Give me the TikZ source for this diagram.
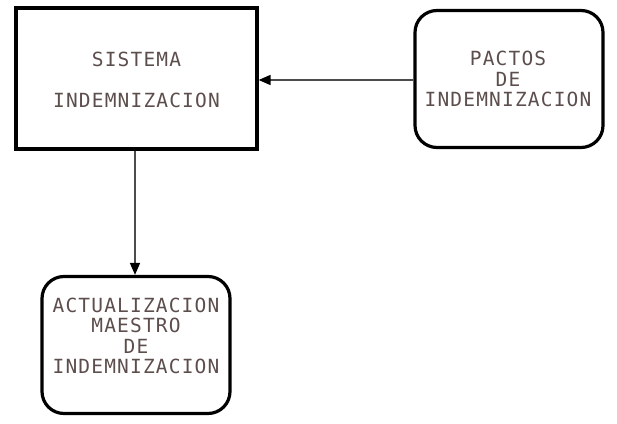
\documentclass[tikz,border=0pt]{standalone}
\usepackage{fontspec}
\newfontfamily\boxfont[LetterSpace=6]{DejaVu Sans Mono}
\usetikzlibrary{arrows.meta}
\definecolor{inkt}{RGB}{92,78,76}
\tikzset{
  boxline/.style={draw=black, line width=3.2pt, inner sep=0pt},
  rbox/.style={boxline, rounded corners=22pt, minimum width=188pt, minimum height=137pt},
  sbox/.style={boxline, minimum width=241pt, minimum height=141pt},
  lbl/.style={text=inkt, font=\boxfont\fontsize{19.5}{20.5}\selectfont, align=center, inner sep=0pt},
  conn/.style={draw=black!70, line width=1.6pt, -{Triangle[length=12pt,width=10pt,color=black]}}
}
\begin{document}
\begin{tikzpicture}[x=1pt,y=1pt]
\useasboundingbox (0,0) rectangle (617,423);
\node[sbox] (sis) at (136.5,344.5) {};
\node[lbl] (sist) at (136.5,364) {SISTEMA};
\node[lbl] (sisi) at (136.5,323) {INDEMNIZACION};
\node[rbox] (pac) at (509,344) {};
\node[lbl] (pact) at (508,344) {PACTOS\\DE\\INDEMNIZACION};
\node[rbox] (act) at (136,78) {};
\node[lbl] (actt) at (136,87) {ACTUALIZACION\\MAESTRO\\DE\\INDEMNIZACION};
\draw[conn] (pac.west |- 0,343) -- (sis.east |- 0,343);
\draw[conn] (sis.south -| 135,0) -- (act.north -| 135,0);
\end{tikzpicture}
\end{document}
